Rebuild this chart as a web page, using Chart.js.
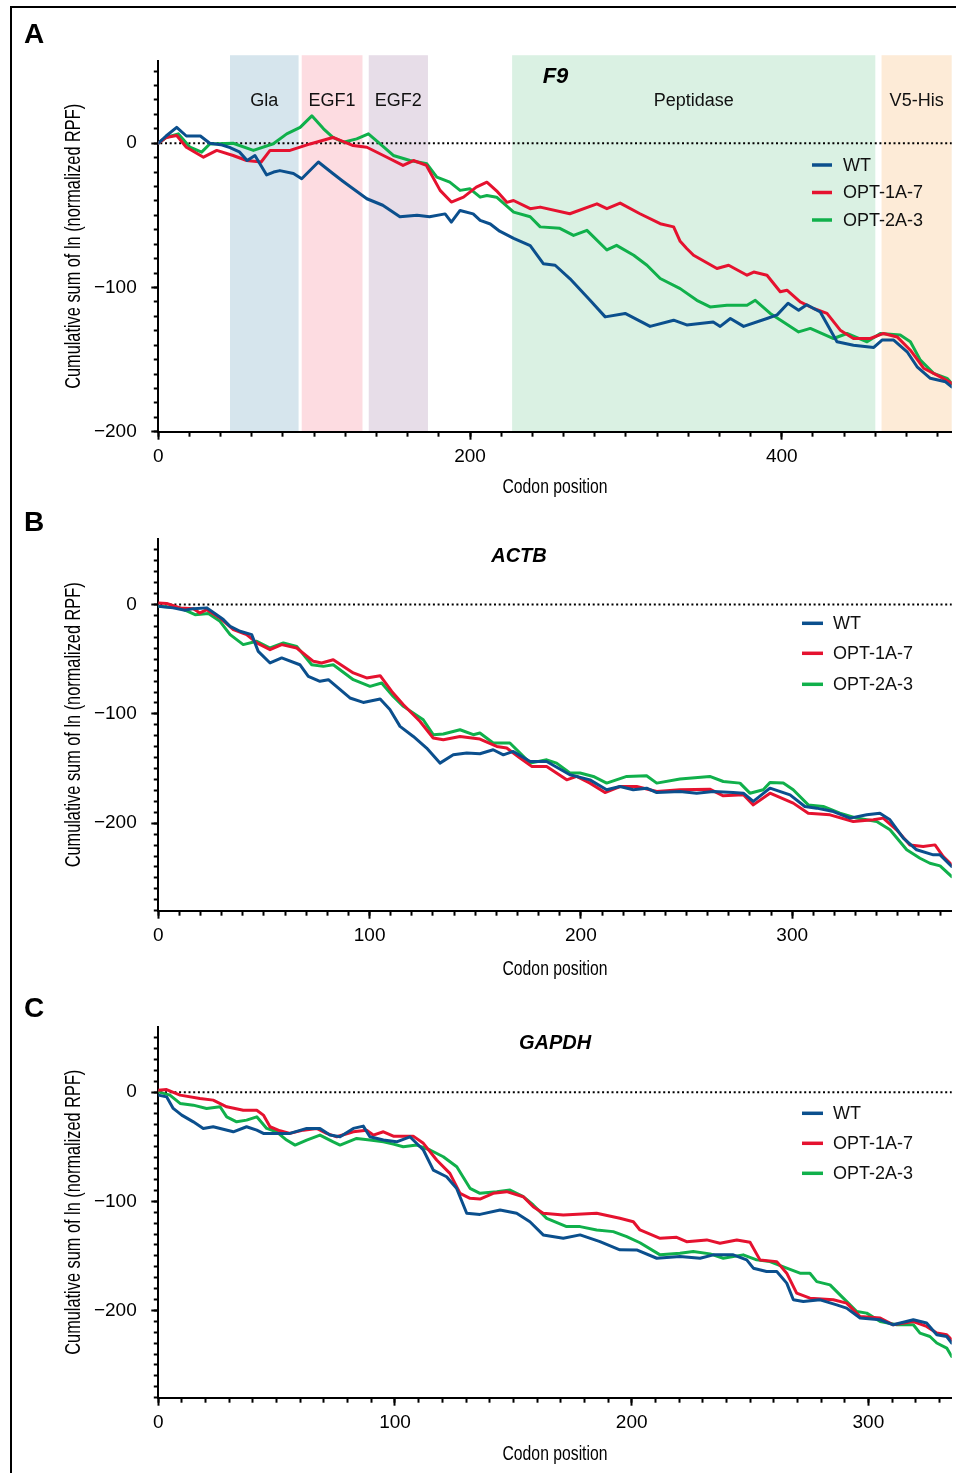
<!DOCTYPE html>
<html><head><meta charset="utf-8">
<script src="https://cdn.jsdelivr.net/npm/chart.js@4.4.1/dist/chart.umd.min.js"></script>
<style>
html,body{margin:0;padding:0;background:#fff;}
body{width:956px;height:1473px;position:relative;overflow:hidden;}
.frame{position:absolute;left:10px;top:6px;width:960px;height:1480px;border-left:2px solid #000;border-top:2px solid #000;box-sizing:border-box;}
canvas{position:absolute;left:0;}
</style></head>
<body>
<div class="frame"></div>
<script>
// ---------------- DATA ----------------
const SERIES_NAMES = ['WT', 'OPT-1A-7', 'OPT-2A-3'];

// Panel A: F9  [codon, cumulative sum]
const F9_WT = [[0,0],[5,5],[11.8,11],[18,5],[27,5],[33,0],[40,-1],[46,-3],[52,-6],[57,-12],[62,-8.5],[69.5,-22],[74,-20],[78,-19],[86.7,-21],[92,-24.6],[102.7,-13],[112,-21],[118,-26],[123,-30],[133.8,-38.5],[144,-43],[155,-51],[166,-50],[174,-51],[184,-49],[188,-54.7],[193.6,-46.6],[202,-49],[206.5,-53.5],[213,-56],[219,-61],[228,-66],[238.6,-71],[247,-83.5],[254.6,-84.6],[264,-93.8],[277,-108.9],[286.7,-120.4],[299.5,-118],[315.5,-127],[330.6,-122.7],[339,-126],[356,-123.9],[360.5,-127],[367,-121.5],[375.5,-127],[390.5,-121.5],[397,-119],[404,-111],[410.8,-115.8],[416,-112],[424.7,-117],[435.4,-137.7],[446,-140],[459,-141.6],[464.3,-136.5],[471.8,-136.5],[480.4,-144.6],[486.8,-155],[495.3,-163],[505,-165.4],[509,-168.9]];
const F9_OPT1 = [[0,0],[5,4],[11.8,5.3],[18,-2.8],[29,-9.7],[37.5,-5],[48,-8.5],[56.7,-12],[66,-13],[71.7,-5],[84.5,-5],[97.4,-0.5],[112,4],[125,-1.6],[133.8,-2.8],[144.4,-8.5],[157,-15.4],[163.7,-12],[172,-15.4],[180.8,-32.7],[188,-40.8],[195.8,-37.4],[204,-30.4],[210.8,-27],[217,-33],[223.6,-41],[227.9,-39.7],[238.6,-45.4],[245,-44.3],[264,-48.9],[281.4,-42],[287.8,-45.4],[296.3,-41.5],[309,-48.9],[322,-55.8],[330.6,-58],[334.8,-68],[339,-73],[343.4,-77.7],[358.4,-86.9],[365.9,-84.6],[377.7,-91.5],[382,-89.3],[390.5,-91.5],[399,-103],[403.3,-101.9],[411.8,-110],[420.4,-114.6],[429,-118],[437.5,-129.6],[446,-135.4],[456.8,-135.4],[465.3,-131.9],[474,-134.3],[482.5,-143.5],[491,-156],[501.7,-162],[509,-166.5]];
const F9_OPT2 = [[0,0],[5,4],[12.8,6.5],[20.3,-2.8],[27.8,-6.2],[33,-0.5],[48,0],[61,-5],[73.8,-0.4],[82.4,6.5],[91,11],[98.5,19],[106,10],[112,4],[118.7,0.7],[127.3,3],[134.8,6.5],[142.3,-0.4],[150.8,-8.5],[161.5,-12],[172.3,-14.3],[178.7,-23.5],[187,-27],[193.6,-32.7],[200,-31.6],[206.5,-37.4],[210.8,-36.2],[217,-37.4],[228,-47.8],[238.6,-51],[245,-58],[257.6,-59],[266.4,-63.9],[275,-60.4],[287.8,-74],[294,-70.8],[305,-77.7],[313.5,-84.6],[322,-93.8],[334.8,-100.8],[345.5,-108.9],[354,-113.5],[364.8,-112.3],[377.7,-112.3],[383,-108.9],[392.6,-118],[401,-123.9],[410.8,-130.8],[418.3,-128.4],[433.2,-135.4],[441.8,-131.9],[454.7,-137.7],[463.2,-131.9],[476,-133],[482.5,-137.7],[488.9,-150.4],[497.4,-159.6],[506,-163],[509,-166.5]];
const F9_DOMAINS = ['Gla', 'EGF1', 'EGF2', 'Peptidase', 'V5-His'];
const F9_DOMAIN_START = [46, 92, 135, 227, 464];
const F9_DOMAIN_END = [90, 131, 173, 460, 509];
const F9_X_TICKS = [0, 200, 400];
const F9_Y_TICKS = [-200, -100, 0];

// Panel B: ACTB
const ACTB_WT = [[0,-1.5],[7,-3],[12.6,-5.2],[16.6,-3.7],[23,-3],[27.6,-9.2],[30.8,-13.7],[34,-19.9],[38.7,-24.4],[44.2,-27.5],[47.3,-42.8],[52.9,-53.4],[58.4,-48.8],[67,-55],[71,-65.6],[76.5,-70.2],[80.5,-68.7],[90.7,-85.4],[97,-89.5],[105,-86.4],[109.6,-96],[114.4,-111.4],[120.7,-120.6],[127,-131.2],[133.3,-145],[139.6,-137.4],[146,-135.8],[152.2,-136.4],[158.5,-132.8],[163.3,-137.4],[168,-134.3],[176,-143.5],[183.8,-143.5],[194.8,-155.7],[204.3,-160.3],[212.2,-169.4],[218.5,-166.4],[224.8,-169.4],[231.1,-167.9],[235.9,-171.9],[246.9,-171],[254.8,-172.5],[262.7,-171],[272.1,-171.9],[276.9,-172.5],[281.6,-180],[289.5,-167.9],[299,-174],[306,-184.7],[311.6,-186.2],[319.5,-189.3],[327.4,-195.3],[335.3,-192.3],[341.5,-190.8],[346.3,-196.9],[352.6,-213.6],[358.9,-224.3],[366.8,-228.9],[370,-228.9],[375.5,-239.6]];
const ACTB_OPT1 = [[0,1.5],[4,1],[10.3,-3],[16.6,-3.7],[19.7,-7.6],[23,-4.6],[29.2,-12.2],[35.5,-22.9],[41.8,-27.5],[46.6,-35],[52.9,-41.2],[58.4,-36.6],[65.5,-39.7],[73.4,-51.9],[77.3,-53.4],[82.8,-50.4],[92.3,-62.5],[98.6,-67.1],[105,-65],[110.5,-79.4],[116,-91.6],[123.9,-106.9],[130.1,-122],[134.9,-123.6],[142.8,-120.6],[152.2,-123],[160.2,-129.8],[164.9,-131.2],[171.2,-140.4],[176.7,-148],[183.8,-148],[193.3,-160.3],[198,-157.2],[204.3,-163.3],[211.4,-171.9],[218.5,-166.4],[226.4,-166.4],[235.9,-171],[246.9,-169.4],[261,-168.8],[267.4,-174.9],[276.9,-174],[281.6,-183.2],[289.5,-172.5],[300.5,-181.6],[307.6,-190.8],[317.9,-192.3],[328.9,-198.4],[338.4,-196.9],[343.1,-195.3],[349.4,-206],[355.7,-219.8],[362,-221.3],[367.6,-219.8],[371.5,-230.5],[375.5,-238.1]];
const ACTB_OPT2 = [[0,-1.5],[10.3,-3],[17.4,-9.2],[23.7,-8.2],[29.2,-15.3],[34,-27.5],[40.2,-36.6],[46.6,-33.6],[52.9,-39.7],[59.2,-35.1],[65.5,-38.2],[72.6,-55],[78.1,-56.5],[82.8,-55],[92.3,-68.7],[100.2,-74.8],[105.7,-71.7],[111.2,-84],[116,-93.1],[125.4,-105.3],[130.1,-119],[134.9,-118.4],[142.8,-114.5],[149.1,-119],[152.2,-117.5],[158.5,-126.6],[166.4,-126.6],[176,-145],[183.8,-142],[188.5,-145],[194.8,-154.1],[199.6,-154.1],[205.9,-157.2],[212.2,-163.3],[221.7,-157.2],[231.1,-156.6],[235.9,-163.3],[246.9,-159.6],[261,-157.2],[267.4,-161.8],[275.3,-163.3],[280,-172.5],[286.3,-169.4],[289.5,-162.7],[295.8,-163.3],[300.5,-169.4],[307.6,-183.2],[314.7,-184.7],[322.6,-190.8],[330.5,-195.3],[340,-198.4],[346.3,-206],[354.2,-224.3],[360.5,-232],[365.2,-236.6],[370,-239],[375.5,-248.8]];
const ACTB_X_TICKS = [0, 100, 200, 300];
const ACTB_Y_TICKS = [-200, -100, 0];

// Panel C: GAPDH
const GAPDH_WT = [[0,-2.7],[3.5,-4.3],[6.3,-14.9],[9.9,-21],[14.8,-27.2],[19,-33.2],[23.2,-31.7],[31.7,-36.3],[37.3,-31.7],[41.6,-34.8],[44.4,-37.8],[55.6,-37.8],[62.7,-33.2],[68.3,-33.2],[72.5,-39.3],[76.8,-40.9],[82.4,-33.2],[86.6,-31.1],[89.4,-40.9],[95.1,-43.9],[100.7,-45.5],[106.3,-40.9],[112,-53],[116.2,-71.4],[121.8,-77.5],[126,-88.1],[130.3,-111],[135.9,-112],[144.4,-108],[151.4,-111],[157,-118.7],[162.6,-130.8],[171.1,-133.9],[178.2,-130.8],[186.6,-137],[195,-144.5],[202.1,-144.6],[210.6,-152.2],[220.4,-150.7],[228.9,-152.2],[234.5,-149.1],[242.9,-149.1],[248.6,-153.7],[251.4,-161.3],[257,-164.4],[261.3,-164.4],[265.5,-175],[268.3,-190.3],[272.5,-191.9],[279.6,-190.3],[286.6,-194.9],[290.8,-197.9],[296.5,-207],[305,-208.6],[310.5,-213.2],[319,-208.6],[324.6,-211.6],[328.9,-222.3],[333.1,-223.9],[335.2,-229.9]];
const GAPDH_OPT1 = [[0,1.8],[3.5,2.4],[9.2,-2.7],[17.6,-5.8],[23.2,-7.3],[28.9,-13.4],[35.9,-16.5],[41.6,-16.5],[44.4,-21],[47.2,-31.7],[51.4,-35.4],[55.6,-37.8],[61.3,-34.8],[66.9,-33.2],[71.1,-37.8],[75.4,-40.9],[82.4,-36.3],[88,-34.8],[90.8,-39.3],[95.1,-36.3],[99.3,-40.3],[107.7,-40.3],[112,-46.9],[117.6,-62.2],[123.2,-74.4],[127.5,-92.7],[131.7,-97.3],[135.9,-98],[141.5,-92.7],[147.2,-91.2],[154.2,-95.8],[158.4,-104.9],[162.6,-111],[171.1,-112.5],[185.2,-111],[195,-115.6],[200.7,-118.7],[203.5,-126.3],[212,-133.9],[219,-133],[223.2,-137],[231.7,-135.4],[237.3,-138.4],[244.4,-135.4],[250,-137.5],[254.2,-153.7],[261.3,-155.3],[265.5,-165.9],[269.7,-184.2],[275.3,-188.8],[285.2,-190.3],[290.8,-193.3],[296.5,-205.6],[305,-207],[310.5,-213.2],[319,-210.2],[324.6,-214.7],[328.9,-220.8],[333.1,-222.3],[335.2,-226.9]];
const GAPDH_OPT2 = [[0,0.3],[4.9,-2.7],[9.2,-10.3],[14.8,-11.9],[20.4,-14.9],[26.1,-13.4],[28.9,-22.6],[33.1,-27.2],[37.3,-25.6],[41.6,-22.6],[45.8,-33.2],[50,-36.3],[54.2,-43.9],[57.8,-48.5],[62.7,-43.9],[68.3,-39.3],[73.9,-45.5],[76.8,-48.5],[83.8,-42.4],[89.4,-43.9],[95.1,-45.5],[99.3,-47.6],[103.5,-50],[109.2,-48.5],[114.8,-53],[120.4,-59.2],[126.1,-68.3],[131.7,-88.1],[135.9,-92.7],[143,-91.2],[148.6,-89.7],[154.2,-95.8],[158.4,-103.4],[164.1,-115.6],[172.5,-123.2],[178.2,-123.2],[185.2,-126.3],[192.2,-127.8],[197.9,-132.4],[203.5,-138],[212,-149.1],[220.4,-147.6],[226,-146.1],[233.1,-148.2],[238.7,-152.2],[247.1,-149.1],[252.8,-153.7],[258.4,-155.3],[265.5,-161.3],[271.1,-165.9],[275.3,-165.9],[278.2,-173.6],[283.8,-176.6],[289.4,-188.7],[295.1,-201],[299.3,-202.5],[305,-210.2],[312,-213.2],[319,-213.2],[321.8,-220.8],[326,-223.9],[328.9,-229.9],[333.1,-234.5],[335.2,-242.2]];
const GAPDH_X_TICKS = [0, 100, 200, 300];
const GAPDH_Y_TICKS = [-200, -100, 0];

// ---------------- STYLE ----------------
const SERIES_COLORS = ['#0b4f8d', '#e5122f', '#10b04b'];
const DOMAIN_COLORS = ['#d6e5ed', '#fddce1', '#e7dde8', '#daf1e3', '#fdebd7'];
const SANS = "'Liberation Sans', Arial, Helvetica, sans-serif";

function range(a, b, s) { const r = []; for (let v = a; v <= b + 1e-9; v += s) r.push(v); return r; }
const fmt = v => v < 0 ? '\u2212' + Math.abs(v) : String(v);

function drawSqueezed(ctx, text, x, y, targetW, font, vertical) {
  ctx.save();
  ctx.font = font;
  const w = ctx.measureText(text).width;
  ctx.translate(x, y);
  if (vertical) ctx.rotate(-Math.PI / 2);
  ctx.scale(targetW / w, 1);
  ctx.textAlign = 'center';
  ctx.textBaseline = 'alphabetic';
  ctx.fillStyle = '#000';
  ctx.fillText(text, 0, 0);
  ctx.restore();
}

const decor = {
  id: 'decor',
  beforeDraw(chart, args, o) {
    const { ctx, chartArea: ca, scales: { x, y } } = chart;
    if (o.bands) {
      const b = o.bands;
      ctx.save();
      b.start.forEach((s, i) => {
        const x0 = x.getPixelForValue(s), x1 = x.getPixelForValue(b.end[i]);
        const yt = y.getPixelForValue(b.top);
        ctx.fillStyle = b.colors[i];
        ctx.fillRect(x0, yt, x1 - x0, ca.bottom - yt);
      });
      ctx.restore();
    }
  },
  beforeDatasetsDraw(chart) {
    const { ctx, chartArea: ca, scales: { y } } = chart;
    const yy = y.getPixelForValue(0);
    ctx.save();
    ctx.strokeStyle = '#000';
    ctx.lineWidth = 2;
    ctx.setLineDash([2, 2.7]);
    ctx.beginPath();
    ctx.moveTo(ca.left + 2, yy);
    ctx.lineTo(ca.right, yy);
    ctx.stroke();
    ctx.restore();
  },
  afterDraw(chart, args, o) {
    const { ctx, chartArea: ca, scales: { x, y } } = chart;
    ctx.save();
    ctx.fillStyle = '#000';
    // domain labels
    if (o.bands) {
      const b = o.bands;
      ctx.font = '18px ' + SANS;
      ctx.textAlign = 'center';
      ctx.textBaseline = 'middle';
      ctx.fillStyle = '#111';
      b.names.forEach((n, i) => {
        const cx = (x.getPixelForValue(b.start[i]) + x.getPixelForValue(b.end[i])) / 2;
        ctx.fillText(n, cx, b.labelY);
      });
    }
    // gene title
    ctx.fillStyle = '#000';
    ctx.font = 'italic bold ' + o.title.size + 'px ' + SANS;
    ctx.textAlign = 'center';
    ctx.textBaseline = 'middle';
    ctx.fillText(o.title.text, o.title.x, o.title.y);
    // legend
    const L = o.legend;
    ctx.font = '18px ' + SANS;
    ctx.textAlign = 'left';
    chart.data.datasets.forEach((ds, i) => {
      const yy = L.ys[i];
      ctx.strokeStyle = ds.borderColor;
      ctx.lineWidth = 3.5;
      ctx.beginPath();
      ctx.moveTo(L.x1, yy);
      ctx.lineTo(L.x2, yy);
      ctx.stroke();
      ctx.fillStyle = '#111';
      ctx.fillText(ds.label, L.tx, yy + 1);
    });
    // panel letter
    ctx.fillStyle = '#000';
    ctx.font = 'bold 28px ' + SANS;
    ctx.textAlign = 'left';
    ctx.textBaseline = 'alphabetic';
    ctx.fillText(o.letter.text, 24, o.letter.base);
    ctx.restore();
    // axis titles (condensed)
    drawSqueezed(ctx, 'Codon position', (ca.left + ca.right) / 2, ca.bottom + o.xTitleOff, 105, '21px ' + SANS, false);
    drawSqueezed(ctx, 'Cumulative sum of ln (normalized RPF)', 80, (ca.top + ca.bottom) / 2, 285, '22px ' + SANS, true);
  }
};

function makePanel(p) {
  const cv = document.createElement('canvas');
  cv.width = 956; cv.height = p.h;
  cv.style.top = p.top + 'px';
  document.body.appendChild(cv);
  const tickFont = { family: SANS, size: 19 };
  new Chart(cv, {
    type: 'line',
    data: {
      datasets: p.series.map((s, i) => ({
        label: SERIES_NAMES[i],
        data: s.map(([x, y]) => ({ x, y })),
        borderColor: SERIES_COLORS[i],
        borderWidth: 3,
        pointRadius: 0,
        tension: 0,
        fill: false,
        borderJoinStyle: 'round',
        borderCapStyle: 'round'
      }))
    },
    options: {
      responsive: false, animation: false, devicePixelRatio: 1, events: [],
      layout: { padding: { left: 0, right: 956 - 951.7, top: p.padTop, bottom: 0 } },
      plugins: { legend: { display: false }, tooltip: { enabled: false }, decor: p.decor },
      scales: {
        x: {
          type: 'linear', axis: 'x', position: 'bottom', weight: 1, min: 0, max: p.xmax,
          afterBuildTicks: s => { s.ticks = p.xticks.map(v => ({ value: v })); },
          afterFit: s => { s.height = p.h - p.bottomPx; },
          grid: { drawOnChartArea: false, drawTicks: true, tickLength: 8, tickWidth: 2, tickColor: '#000' },
          border: { display: true, color: '#000', width: 2 },
          ticks: { padding: 5.5, font: tickFont, color: '#000', callback: fmt, maxRotation: 0 },
          title: { display: false }
        },
        xm: {
          type: 'linear', axis: 'x', position: 'bottom', weight: 0, min: 0, max: p.xmax,
          afterBuildTicks: s => { s.ticks = p.xminor.map(v => ({ value: v })); },
          afterFit: s => { s.height = 0; },
          grid: { drawOnChartArea: false, drawTicks: true, tickLength: 5, tickWidth: 2, tickColor: '#000' },
          border: { display: false },
          ticks: { display: false }
        },
        y: {
          type: 'linear', axis: 'y', position: 'left', weight: 1, min: p.ymin, max: p.ymax,
          afterBuildTicks: s => { s.ticks = p.yticks.map(v => ({ value: v })); },
          afterFit: s => { s.width = 158.3; },
          grid: { drawOnChartArea: false, drawTicks: true, tickLength: 7, tickWidth: 2, tickColor: '#000' },
          border: { display: true, color: '#000', width: 2 },
          ticks: { padding: 14.6, font: tickFont, color: '#000', callback: fmt },
          title: { display: false }
        },
        ym: {
          type: 'linear', axis: 'y', position: 'left', weight: 0, min: p.ymin, max: p.ymax,
          afterBuildTicks: s => { s.ticks = p.yminor.map(v => ({ value: v })); },
          afterFit: s => { s.width = 0; },
          grid: { drawOnChartArea: false, drawTicks: true, tickLength: 4.5, tickWidth: 2, tickColor: '#000' },
          border: { display: false },
          ticks: { display: false }
        }
      }
    },
    plugins: [decor]
  });
}

// Panel A
makePanel({
  top: 0, h: 500, padTop: 61, bottomPx: 431.7,
  xmax: 509, ymin: -200, ymax: 57,
  xticks: F9_X_TICKS, xminor: range(0, 500, 20),
  yticks: F9_Y_TICKS, yminor: range(-200, 50, 10),
  series: [F9_WT, F9_OPT1, F9_OPT2],
  decor: {
    bands: { names: F9_DOMAINS, start: F9_DOMAIN_START, end: F9_DOMAIN_END, colors: DOMAIN_COLORS, top: 61, labelY: 101 },
    title: { text: 'F9', x: 555.5, y: 77, size: 22 },
    legend: { x1: 812, x2: 832, tx: 843, ys: [165, 192.5, 220] },
    letter: { text: 'A', base: 43.3 },
    xTitleOff: 61.6
  }
});
// Panel B
makePanel({
  top: 500, h: 480, padTop: 39, bottomPx: 410.7,
  xmax: 375.5, ymin: -280, ymax: 60,
  xticks: ACTB_X_TICKS, xminor: range(0, 370, 10),
  yticks: ACTB_Y_TICKS, yminor: range(-280, 50, 10),
  series: [ACTB_WT, ACTB_OPT1, ACTB_OPT2],
  decor: {
    title: { text: 'ACTB', x: 519, y: 56.7, size: 20 },
    legend: { x1: 802, x2: 823, tx: 833, ys: [123.3, 153.3, 184.3] },
    letter: { text: 'B', base: 31 },
    xTitleOff: 64.3
  }
});
// Panel C
makePanel({
  top: 980, h: 493, padTop: 46.7, bottomPx: 417.7,
  xmax: 335.2, ymin: -280, ymax: 60,
  xticks: GAPDH_X_TICKS, xminor: range(0, 330, 10),
  yticks: GAPDH_Y_TICKS, yminor: range(-280, 50, 10),
  series: [GAPDH_WT, GAPDH_OPT1, GAPDH_OPT2],
  decor: {
    title: { text: 'GAPDH', x: 555, y: 63.3, size: 20 },
    legend: { x1: 802, x2: 823, tx: 833, ys: [133.3, 163.3, 193.3] },
    letter: { text: 'C', base: 37 },
    xTitleOff: 62.3
  }
});
</script>
</body></html>
